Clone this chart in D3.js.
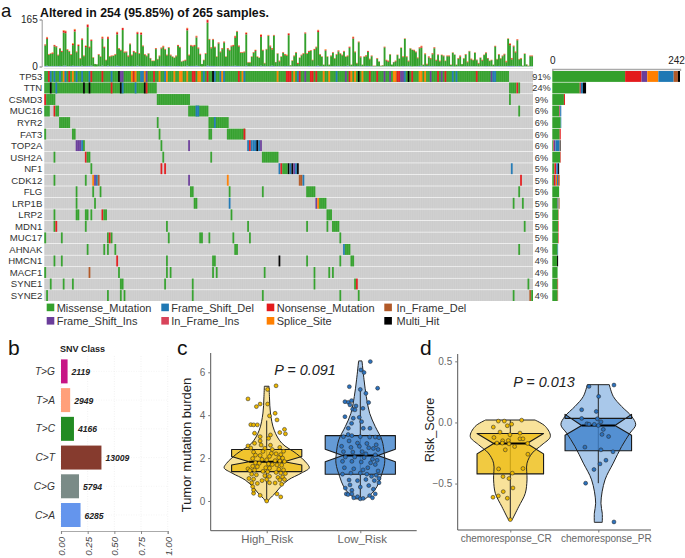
<!DOCTYPE html>
<html><head><meta charset="utf-8">
<script src="https://cdn.jsdelivr.net/npm/d3@7"></script>
<style>
html,body{margin:0;padding:0;background:#fff}
svg{display:block}
text{font-family:"Liberation Sans",Arial,sans-serif}
</style></head><body>
<svg id="c" width="685" height="558"></svg>
<script>
// ---------- data ----------
const genes=["TP53","TTN","CSMD3","MUC16","RYR2","FAT3","TOP2A","USH2A","NF1","CDK12","FLG","LRP1B","LRP2","MDN1","MUC17","AHNAK","HMCN1","MACF1","SYNE1","SYNE2"];
const genePct=["91%","24%","9%","6%","6%","6%","6%","6%","5%","5%","5%","5%","5%","5%","5%","4%","4%","4%","4%","4%"];
const nSamples=265;
const classes=["Missense_Mutation","Frame_Shift_Del","Nonsense_Mutation","In_Frame_Del","Frame_Shift_Ins","In_Frame_Ins","Splice_Site","Multi_Hit"];
const classColors=["#33A02C","#1F78B4","#E31A1C","#B15928","#6A3D9A","#D8435A","#FF7F00","#000000"];
const M=0,D=1,N=2,F=3,I=4,J=5,S=6,H=7;
// sample-wise burden
const barTotal=[78,104,44,47,50,76,72,42,65,55,128,126,61,55,44,82,132,53,78,30,99,39,74,148,70,95,33,9,8,44,36,105,70,24,105,37,39,39,44,122,65,59,136,53,53,39,81,42,55,51,122,47,120,74,44,39,47,30,21,21,65,27,39,67,73,62,42,68,42,36,32,39,76,69,18,21,24,136,42,76,74,76,108,67,45,9,24,47,
165,97,68,97,70,36,85,53,65,88,36,65,59,74,76,108,125,74,51,51,53,120,16,16,36,51,59,36,32,113,59,13,62,111,74,65,111,16,47,21,36,51,44,42,117,5,22,39,51,13,32,42,47,120,47,55,58,24,62,70,129,44,36,7,61,36,7,39,51,30,44,57,47,42,55,36,39,70,7,105,53,13,88,36,7,36,40,55,28,
39,3,3,30,18,3,5,70,24,21,44,7,16,21,42,28,67,36,99,36,21,65,59,59,53,32,68,73,7,47,10,36,30,47,68,24,42,21,42,39,21,39,39,7,50,42,7,30,39,9,30,44,18,55,28,24,50,24,13,32,24,42,50,30,21,24,7,73,27,44,30,39,45,20,99,82,30,74,53,96,27,30,3,46,8,3,39,39];
const barNonsense="3521343223"+"7722247242"+"4249341112"+"1531622127"+"2272232232"+"6262221211"+"3123322221"+"1232112722"+"33432112"+"9232213233"+"1323352322"+"2511123117"+"2112342112"+"1232611223"+"1223232132"+"6211311221"+"2322212315"+"2123113322"+"212112223"+"1112111212"+"2112223522"+"2333322212"+"1222112231"+"1221211221"+"2122111212"+"1223154233"+"12"+"1112"+"22";
const barSplice="1211211111"+"2211132121"+"1121111001"+"1211211112"+"1112111111"+"2121111011"+"1111211111"+"1111011211"+"11211011"+"2111111111"+"1111121111"+"1211111112"+"1112111011"+"1112111111"+"1111111111"+"2111211111"+"1111111112"+"1111111111"+"111011111"+"1001101111"+"1101111212"+"1111110111"+"1111101111"+"1111111011"+"1110111111"+"1112121211"+"11"+"0111"+"11";
const barFsDel="2311212121"+"3311232221"+"3122231001"+"1311312123"+"2122121211"+"3121211111"+"2112221221"+"1121011312"+"22321011"+"4222211212"+"1212232211"+"1311122113"+"1211232112"+"1121211111"+"1111121112"+"3121111112"+"1211213111"+"2112112212"+"121111111"+"1001101211"+"1201112312"+"1212111121"+"1111201111"+"1111111101"+"1121111212"+"1111222211"+"21"+"0111"+"11";
// oncoplot segments: [first sample, number of samples, class]
const TP53=[[0,252,M],[2,1,N],[3,1,D],[5,1,D],[8,1,D],[10,1,S],[11,1,D],[13,1,N],[15,1,S],[17,1,D],[20,1,D],[24,1,D],[25,1,N],[31,1,N],[36,1,D],[40,1,H],[41,2,I],[47,1,S],[48,1,N],[49,1,S],[52,2,D],[54,1,S],[55,1,I],[59,1,N],[62,1,S],[65,1,D],[66,1,S],[70,1,S],[73,2,S],[77,1,S],[80,2,N],[83,2,S],[86,1,D],[88,1,N],[91,1,H],[92,1,D],[95,1,D],[96,1,S],[97,1,D],[105,1,N],[107,1,S],[108,1,D],[126,1,S],[131,3,N],[135,1,S],[137,1,D],[138,1,N],[141,1,I],[144,2,N],[147,1,N],[151,1,S],[154,1,S],[158,1,D],[163,1,I],[165,1,N],[166,1,S],[168,1,S],[170,1,H],[172,1,S],[176,1,N],[180,1,N],[184,1,I],[187,1,I],[189,2,S],[191,2,N],[193,2,I],[195,1,D],[197,1,H],[199,1,N],[203,2,S],[206,1,S],[209,1,I],[213,1,N],[215,1,I],[217,1,N],[221,1,D],[223,1,D],[234,1,N],[242,1,I],[243,2,D]];
const TTN=[[0,61,M],[3,1,H],[6,1,D],[21,1,H],[24,1,H],[36,1,N],[41,1,H],[42,1,D],[49,1,D],[54,1,H],[55,1,N],[252,4,M],[256,1,N],[257,1,M]];
const CSMD3=[[0,1,N],[1,5,M],[61,18,M],[252,1,M]];
const MUC16=[[0,3,M],[5,1,N],[6,2,M],[78,11,M],[82,2,D],[257,1,M]];
const RYR2=[[8,6,M],[61,1,M],[89,11,M],[92,1,D]];
const FAT3=[[0,1,M],[15,2,M],[62,1,M],[89,2,M],[99,10,M],[108,1,N]];
const TOP2A=[[17,3,I],[20,1,D],[21,1,M],[63,1,M],[78,1,I],[110,1,D],[111,1,N],[112,1,D],[113,3,D],[115,1,H],[116,1,D],[117,1,I]];
const USH2A=[[5,1,M],[22,1,N],[23,2,M],[64,1,M],[90,1,M],[118,9,M]];
const NF1=[[25,1,M],[63,1,N],[65,1,N],[127,1,D],[128,1,N],[129,3,M],[132,1,H],[133,1,D],[134,1,H],[135,1,I],[136,1,D],[137,1,H],[253,1,D]];
const CDK12=[[5,1,M],[22,1,M],[26,1,S],[27,1,I],[28,1,D],[29,1,F],[78,1,I],[99,1,S],[138,2,F],[140,1,D],[258,1,N]];
const FLG=[[17,1,M],[26,1,M],[30,1,M],[79,2,M],[100,1,M],[118,1,M],[142,5,M],[257,1,M]];
const LRP1B=[[17,1,M],[27,1,M],[81,2,M],[100,1,D],[147,1,I],[148,1,S],[149,4,M],[254,1,M],[259,1,M]];
const LRP2=[[5,1,M],[17,2,M],[22,2,M],[25,1,M],[31,1,N],[32,2,M],[101,1,M],[153,3,M]];
const MDN1=[[5,1,M],[6,1,N],[22,1,M],[66,1,M],[110,1,M],[142,1,M],[153,1,M],[156,4,M],[260,1,M]];
const MUC17=[[0,1,M],[9,1,M],[34,1,M],[35,1,N],[36,1,M],[67,1,M],[84,2,M],[89,1,M],[102,1,M],[111,1,M],[160,1,M]];
const AHNAK=[[23,1,M],[32,1,M],[34,1,M],[38,1,M],[103,2,M],[162,1,D],[163,3,M],[257,1,M]];
const HMCN1=[[5,1,M],[9,1,M],[39,1,N],[66,1,M],[91,2,M],[127,1,H],[142,1,M],[160,1,M],[166,2,M]];
const MACF1=[[0,1,M],[24,1,F],[40,1,M],[66,1,M],[68,1,M],[91,1,M],[93,1,M],[119,1,M],[146,1,M],[154,1,M],[156,1,M]];
const SYNE1=[[3,1,M],[10,1,M],[15,1,M],[41,2,M],[65,1,M],[80,1,M],[146,1,M],[168,1,M],[169,1,N],[262,1,M]];
const SYNE2=[[1,1,M],[34,1,M],[41,1,M],[43,1,M],[80,1,M],[118,1,M],[160,1,M],[170,1,M],[254,1,M],[263,1,F],[264,1,M]];
const geneSegs=[TP53,TTN,CSMD3,MUC16,RYR2,FAT3,TOP2A,USH2A,NF1,CDK12,FLG,LRP1B,LRP2,MDN1,MUC17,AHNAK,HMCN1,MACF1,SYNE1,SYNE2];
// right-hand gene totals per class
const rightOrder=[M,N,I,S,D,F,J,H];
const rMissense=[138,52,22,13,16,14,2,15,4,3,13,10,11,11,11,10,9,10,10,10];
const rNonsense=[31,2,2,1,0,2,1,1,3,3,0,0,0,1,1,0,0,0,1,0];
const rFsIns=[11,0,0,1,0,0,3,0,1,1,0,1,0,0,0,0,0,0,0,0];
const rSplice=[21,0,0,0,0,0,0,0,0,2,0,1,0,0,0,0,0,0,0,0];
const rFsDel=[29,4,0,2,1,0,8,0,3,2,0,1,0,0,0,1,0,0,0,0];
const rIfDel=[8,0,0,0,0,0,1,0,0,3,0,1,1,0,0,0,0,0,0,1];
const rIfIns=[0,0,0,0,0,0,0,0,0,0,0,0,0,0,0,0,0,0,0,0];
const rMulti=[4,6,0,0,0,0,1,0,2,0,0,0,0,0,0,0,2,0,0,0];
const rightSeries=[rMissense,rNonsense,rFsIns,rSplice,rFsDel,rIfDel,rIfIns,rMulti];
// panel b
const snvClass=["T>G","T>A","T>C","C>T","C>G","C>A"];
const snvCount=[2119,2949,4166,13009,5794,6285];
const snvColor=["#C71585","#FFA07A","#228B22","#863B2E","#7A8B87","#6495ED"];
// panel c
const cCats=["High_Risk","Low_Risk"];
const cVioHigh=[[5.35,.025],[4.8,.03],[4.1,.04],[3.3,.08],[2.7,.16],[2.2,.32],[1.75,.43],[1.55,.455],[1.3,.37],[.98,.23],[.67,.15],[.36,.09],[.12,.035],[0,.014]];
const cVioLow=[[6.53,.018],[5.65,.04],[4.87,.064],[4.09,.1],[3.47,.16],[2.85,.23],[2.22,.256],[1.76,.26],[1.13,.22],[.67,.178],[.36,.125],[.1,.053]];
const cBoxHigh={q1:1.37,nl:1.68,med:1.83,nh:2.07,q3:2.4,wl:0,wh:3.75};
const cBoxLow={q1:1.25,nl:1.83,med:2.12,nh:2.41,q3:3.05,wl:.12,wh:5.2};
const cPtsHigh=[[-.2,4.76],[.1,5.37],[.01,5.2],[-.11,4.4],[-.07,4.52],[.01,4.52],[.09,4.09],[.03,3.97],[.11,3.78],[-.17,3.56],[-.14,3.55],[-.1,3.55],[.19,3.34],[.14,3.19],[.2,3.13],[-.07,3.0],[.04,3.08],[-.13,3.16],[-.07,2.8],[.02,2.92],
[-.2,2.57],[-.13,2.69],[-.06,2.61],[.04,2.6],[.14,2.5],[-.17,2.47],[-.02,2.46],[.06,2.4],[.18,2.32],[-.14,2.28],[-.04,2.31],[.05,2.22],[.1,2.2],[.15,2.16],[-.12,2.14],[-.07,2.12],[.03,2.08],[.13,2.02],[.17,2.0],[-.15,1.98],[-.05,1.94],[0,1.92],[.09,1.88],[.14,1.86],[.19,1.84],[-.12,1.78],[-.08,1.76],[.02,1.73],[.06,1.7],[.11,1.68],[.16,1.67],[-.2,1.5],[-.15,1.62],[-.1,1.6],[-.01,1.55],[.03,1.53],[.13,1.48],[.18,1.45],[-.18,1.42],[-.13,1.44],[-.04,1.38],[.01,1.36],[.1,1.33],[.15,1.3],[.2,1.28],[-.16,1.25],[-.11,1.22],[-.02,1.18],[.03,1.15],[.12,1.1],[.17,1.12],[-.19,1.05],[-.14,1.02],[-.05,.95],[0,1.0],[.14,.98],[.19,1.0],[-.16,.85],[-.1,.82],[.03,.85],[.09,.84],[.16,.78],
[0,0],[-.07,.26],[-.14,.36],[-.14,.51],[.11,.33],[.15,.19],[-.15,.67]];
const cPtsLow=[[.107,6.5],[.007,6.11],[.04,5.99],[-.117,5.33],[.185,5.26],[0,5.2],[.06,5.02],[-.164,4.63],[-.128,4.6],[-.093,4.68],[.089,4.59],[-.11,4.48],[-.046,4.43],[.028,4.32],[-.082,4.28],[-.164,3.93],[-.057,4.25],[-.011,3.9],[-.075,3.86],[.014,3.7],[-.093,3.62],[-.128,3.39],[.032,3.39],[.103,3.39],
[-.18,3.0],[-.13,3.1],[-.09,3.05],[0,3.0],[.1,2.98],[.16,2.98],[.2,2.95],[-.12,2.8],[-.03,2.7],[.07,2.68],[.17,2.62],[-.2,2.55],[-.1,2.5],[-.01,2.55],[.09,2.48],[.14,2.45],[.19,2.4],[-.18,2.3],[-.08,2.28],[.02,2.3],[.06,2.2],[.16,2.15],[-.16,2.05],[-.06,2.05],[.04,2.02],[.13,1.95],[.18,1.9],[-.19,1.85],[-.09,1.85],[.01,1.82],[.11,1.78],[.16,1.7],[-.17,1.55],[-.07,1.5],[.03,1.45],[.08,1.55],[.19,1.4],[-.19,1.25],[-.1,1.3],[0,1.3],[.07,1.25],[.12,1.15],[.17,1.2],[.2,1.05],[-.12,.98],[-.03,.95],[.06,1.0],[.15,.95],[.2,.85],[-.11,.75],[0,.65],[.09,.72],[.14,.55],[-.16,.6],[-.09,.5],[-.15,.33],[-.13,.3],[-.09,.33],[-.07,.15],[-.03,.2],[0,.1],[.03,.12],[.1,.25],[.13,.15],[.16,.33]];
// panel d
const dCats=["chemoresponse_CR","chemoresponse_PR"];
const dVioCR=[[.02,.28],[-.033,.4],[-.115,.455],[-.183,.36],[-.25,.25],[-.333,.19],[-.47,.19],[-.58,.17],[-.69,.095],[-.798,.02]];
const dVioPR=[[.309,.125],[.213,.17],[.131,.265],[.049,.38],[-.019,.425],[-.087,.36],[-.197,.265],[-.333,.17],[-.47,.076],[-.661,.03],[-.743,.045],[-.817,.045]];
const dBoxCR={q1:-.421,nl:-.257,med:-.172,nh:-.09,q3:-.09,wl:-.798,wh:.02};
const dBoxPR={q1:-.232,nl:-.104,med:-.025,nh:.066,q3:.033,wl:-.497,wh:.309};
const dPtsCR=[[-.136,.011],[-.068,.011],[.129,.019],[.015,-.014],[-.034,-.027],[-.193,-.038],[-.117,-.079],[-.004,-.101],[.11,-.087],[-.186,-.123],[.11,-.134],[.144,-.134],[-.087,-.15],[-.023,-.148],[-.152,-.169],[-.091,-.169],[-.015,-.175],[.049,-.197],[.197,-.172],[-.057,-.224],[.2,-.26],[-.133,-.38],[.144,-.377],[.023,-.415],[-.083,-.443],[-.015,-.459],[.03,-.536],[-.08,-.566],[-.136,-.601],[-.197,-.612],[-.034,-.62],[0,-.795]];
const dPtsPR=[[-.106,.295],[.178,.306],[.004,.213],[-.189,.104],[-.023,.09],[-.189,.033],[-.011,.03],[-.129,-.011],[-.106,-.014],[-.045,-.016],[0,-.025],[.03,.005],[.057,-.057],[.042,-.098],[.117,-.115],[-.152,-.202],[.03,-.224],[.167,-.24],[.087,-.309],[.019,-.339],[-.049,-.385],[-.144,-.497],[.178,-.814]];

// ---------- drawing ----------
const svg=d3.select("#c");
const txt=(x,y,s,o={})=>{const t=svg.append("text").attr("x",x).attr("y",y).text(s)
  .attr("font-size",o.size||10).attr("fill",o.fill||"#222").attr("text-anchor",o.anchor||"start");
  if(o.weight)t.attr("font-weight",o.weight); if(o.style)t.attr("font-style",o.style);
  if(o.rotate!=null)t.attr("transform",`rotate(${o.rotate} ${x} ${y})`); return t;};
[["a",1,17,18.5],["b",8,355,21],["c",177,355,21],["d",420,355,21]].forEach(d=>txt(d[1],d[2],d[0],{size:d[3],fill:"#111"}));

// panel a
const xS=d3.scaleBand().domain(d3.range(nSamples)).range([44.3,533]);
const bw=xS.bandwidth();
const yG=d3.scaleBand().domain(genes).range([71,301]).paddingInner(.055);
txt(40,16.5,"Altered in 254 (95.85%) of 265 samples.",{size:12.3,weight:"bold",fill:"#111"});
const yTop=d3.scaleLinear().domain([0,165]).range([66.5,19.5]);
const topAxis=svg.append("g").attr("transform","translate(41.7,0)").call(d3.axisLeft(yTop).tickValues([0,165]).tickSize(2));
topAxis.select(".domain").attr("stroke","#999");
topAxis.selectAll("line").attr("stroke","#999");
topAxis.selectAll("text").attr("font-size",10).attr("fill","#222").attr("font-family","Liberation Sans").attr("dx",1);
const topRows=barTotal.map((v,i)=>{const d=+(barFsDel[i]||0),n=+(barNonsense[i]||0),s=+(barSplice[i]||0);
  const scale=v<10?0.4:1; return {i,fs:d*scale,m:Math.max(v-(d+n+s)*scale,0),n:n*scale,s:s*scale};});
const stk=d3.stack().keys(["fs","m","n","s"])(topRows);
const topCol={fs:"#4A6FC0",m:"#33A02C",n:"#E31A1C",s:"#FF9A2A"};
svg.append("g").selectAll("g").data(stk).join("g").attr("fill",d=>topCol[d.key])
 .selectAll("rect").data(d=>d).join("rect")
 .attr("x",d=>xS(d.data.i)).attr("width",bw*1.02)
 .attr("y",d=>yTop(d[1])).attr("height",d=>Math.max(0,yTop(d[0])-yTop(d[1])));
svg.append("line").attr("x1",44).attr("x2",533).attr("y1",68.4).attr("y2",68.4).attr("stroke","#e4e4e4");

// matrix
const mat=svg.append("g");
mat.selectAll("rect.bg").data(genes).join("rect").attr("class","bg")
  .attr("x",xS.range()[0]).attr("width",xS.range()[1]-xS.range()[0])
  .attr("y",d=>yG(d)).attr("height",yG.bandwidth()).attr("fill","#CCCCCC");
genes.forEach((g,gi)=>{
  mat.append("g").selectAll("rect").data(geneSegs[gi]).join("rect")
   .attr("x",d=>xS(d[0])).attr("width",d=>bw*d[1])
   .attr("y",yG(g)).attr("height",yG.bandwidth()).attr("fill",d=>classColors[d[2]]);
});
mat.append("g").selectAll("line").data(d3.range(1,nSamples)).join("line")
  .attr("x1",d=>xS(d)).attr("x2",d=>xS(d)).attr("y1",71).attr("y2",301)
  .attr("stroke","#fff").attr("stroke-width",.3).attr("stroke-opacity",.35);
genes.forEach((g,i)=>{
  const y=yG(g)+yG.bandwidth()/2+3.4;
  txt(42.3,y,g,{size:9.6,anchor:"end",fill:"#333"});
  txt(541.5,y,genePct[i],{size:9.2,anchor:"middle",fill:"#333"});
});
// right bars
const xR=d3.scaleLinear().domain([0,242]).range([552.3,680]);
const ax=svg.append("g").attr("transform","translate(0,69)").call(d3.axisTop(xR).tickValues([0,242]).tickSize(-2));
ax.select(".domain").attr("stroke","#aaa").attr("stroke-width",1.4);
ax.selectAll("line").attr("stroke","#aaa");
ax.selectAll("text").attr("font-size",10).attr("fill","#222").attr("font-family","Liberation Sans").attr("y",-5);
ax.selectAll(".tick").filter(d=>d===242).select("text").attr("dx",-4);
genes.forEach((g,gi)=>{
  let c=0;
  rightOrder.forEach((t,k)=>{const v=rightSeries[k][gi]; if(!v)return;
    svg.append("rect").attr("x",xR(c)).attr("width",xR(c+v)-xR(c)).attr("y",yG(g)).attr("height",yG.bandwidth()).attr("fill",classColors[t]);
    c+=v;});
});
// legend
const lgX=[46.7,161.3,266.7,384.3],lgY=[303.6,317];
classes.forEach((c,i)=>{
  const col=i%4,row=i<4?0:1;
  svg.append("rect").attr("x",lgX[col]).attr("y",lgY[row]).attr("width",7.6).attr("height",7.6).attr("fill",classColors[i]);
  txt(lgX[col]+(col==3?12.2:10),lgY[row]+8,c,{size:11,fill:"#333"});
});

// panel b
const xB=d3.scaleLinear().domain([0,1]).range([61,167.7]);
const yB=d3.scaleBand().domain(snvClass).range([359.4,527]).paddingInner(.165);
const snvTotal=d3.sum(snvCount);
txt(82.5,352,"SNV Class",{size:9,weight:"bold",anchor:"middle",fill:"#222"});
[0,.25,.5,.75,1].forEach(t=>svg.append("line").attr("x1",xB(t)).attr("x2",xB(t)).attr("y1",356).attr("y2",531).attr("stroke","#e8e8e8").attr("stroke-width",.6).attr("stroke-dasharray","1 1.5"));
snvClass.forEach(c=>svg.append("line").attr("x1",61).attr("x2",167.7).attr("y1",yB(c)+yB.bandwidth()/2).attr("y2",yB(c)+yB.bandwidth()/2).attr("stroke","#eee").attr("stroke-width",.6).attr("stroke-dasharray","1 1.5"));
svg.append("g").selectAll("rect").data(snvClass).join("rect")
 .attr("x",xB(0)).attr("y",d=>yB(d)).attr("height",yB.bandwidth())
 .attr("width",(d,i)=>xB(snvCount[i]/snvTotal)-xB(0)).attr("fill",(d,i)=>snvColor[i]);
snvClass.forEach((c,i)=>{const y=yB(c)+yB.bandwidth()/2+3.5;
  txt(55,y,c,{size:10.2,anchor:"end",style:"italic",fill:"#333"});
  txt(xB(snvCount[i]/snvTotal)+4,y,snvCount[i],{size:8.6,weight:"bold",style:"italic",fill:"#222"});
});
const axB=svg.append("g").attr("transform","translate(0,531)").call(d3.axisBottom(xB).tickValues([0,.25,.5,.75,1]).tickFormat(d3.format(".2f")).tickSize(3));
axB.select(".domain").attr("stroke","#aaa").attr("stroke-width",1.2);
axB.selectAll("line").attr("stroke","#888");
axB.selectAll("text").attr("font-size",9.6).attr("fill","#444").attr("font-style","italic").attr("font-family","Liberation Sans")
  .attr("text-anchor","end").attr("transform","rotate(-90)").attr("x",-6).attr("y",3.5).attr("dy",0);

// violin/box helper
function panel(o){
  const y=d3.scaleLinear().domain(o.yDom).range(o.yRange);
  const x=d3.scalePoint().domain(o.cats).range(o.xPos);
  const unit=o.xPos[1]-o.xPos[0];
  const g=svg.append("g");
  o.series.forEach((s,i)=>{
    const cx=x(o.cats[i]);
    const area=d3.area().curve(d3.curveCatmullRom.alpha(.6)).y(d=>y(d[0])).x0(d=>cx-d[1]*unit).x1(d=>cx+d[1]*unit);
    g.append("path").attr("d",area(s.vio)).attr("fill",s.vioFill).attr("stroke","none");
    const b=s.box,L=cx-o.boxHalf*unit,R=cx+o.boxHalf*unit,Ln=cx-o.boxHalf*.5*unit,Rn=cx+o.boxHalf*.5*unit;
    g.append("line").attr("x1",cx).attr("x2",cx).attr("y1",y(b.wh)).attr("y2",y(b.wl)).attr("stroke","#222").attr("stroke-width",1);
    const poly=[[L,y(b.q3)],[R,y(b.q3)],[R,y(b.nh)],[Rn,y(b.med)],[R,y(b.nl)],[R,y(b.q1)],[L,y(b.q1)],[L,y(b.nl)],[Ln,y(b.med)],[L,y(b.nh)]];
    g.append("path").attr("d",d3.line()(poly)+"Z").attr("fill",s.boxFill).attr("fill-opacity",s.boxOp).attr("stroke","#1a1a1a").attr("stroke-width",1.1).attr("stroke-linejoin","round");
    g.append("line").attr("x1",Ln).attr("x2",Rn).attr("y1",y(b.med)).attr("y2",y(b.med)).attr("stroke","#000").attr("stroke-width",1.9);
    const lines=d3.line().curve(d3.curveCatmullRom.alpha(.6));
    const top=s.vio[0],bot=s.vio[s.vio.length-1];
    g.append("path").attr("d",lines(s.vio.map(d=>[cx-d[1]*unit,y(d[0])]))).attr("fill","none").attr("stroke","#222").attr("stroke-width",1);
    g.append("path").attr("d",lines(s.vio.map(d=>[cx+d[1]*unit,y(d[0])]))).attr("fill","none").attr("stroke","#222").attr("stroke-width",1);
    g.append("line").attr("x1",cx-top[1]*unit).attr("x2",cx+top[1]*unit).attr("y1",y(top[0])).attr("y2",y(top[0])).attr("stroke","#222");
    g.append("line").attr("x1",cx-bot[1]*unit).attr("x2",cx+bot[1]*unit).attr("y1",y(bot[0])).attr("y2",y(bot[0])).attr("stroke","#222");
    g.append("g").selectAll("circle").data(s.pts).join("circle")
      .attr("cx",d=>cx+d[0]*unit).attr("cy",d=>y(d[1])).attr("r",o.r)
      .attr("fill",s.ptFill).attr("stroke","#2b2b2b").attr("stroke-width",.55);
  });
  const ay=svg.append("g").attr("transform",`translate(${o.axisX},0)`).call(d3.axisLeft(y).tickValues(o.ticks).tickFormat(o.fmt).tickSize(2.5));
  ay.select(".domain").attr("stroke","#555").attr("stroke-width",1).attr("d",`M0,${o.yRange[0]}V${o.yRange[1]}`);
  ay.selectAll("line").attr("stroke","#777");
  ay.selectAll("text").attr("font-size",10).attr("fill","#666").attr("font-family","Liberation Sans");
  const ax=svg.append("g").attr("transform",`translate(0,${o.yRange[0]})`).call(d3.axisBottom(x).tickSize(2.5));
  ax.select(".domain").attr("stroke","#555").attr("stroke-width",1).attr("d",`M${o.axisX},0H${o.axisEnd}`);
  ax.selectAll("line").attr("stroke","#777");
  ax.selectAll("text").attr("font-size",o.catSize).attr("fill","#666").attr("font-family","Liberation Sans").attr("y",4.5)
    .attr("dx",(d,i)=>o.catDx[i]);
}
panel({cats:cCats,xPos:[266.7,360.3],yDom:[-1.385,6.9],yRange:[530.7,353],axisX:210.7,axisEnd:416.7,ticks:[0,2,4,6],fmt:d3.format("d"),boxHalf:.375,r:1.95,catSize:11.4,catDx:[0,1.5],
 series:[
  {vio:cVioHigh,box:cBoxHigh,pts:cPtsHigh,vioFill:"#F8E29A",boxFill:"#EDBD12",boxOp:.8,ptFill:"#EDB800"},
  {vio:cVioLow,box:cBoxLow,pts:cPtsLow,vioFill:"#A9C8EA",boxFill:"#3E82CC",boxOp:.8,ptFill:"#2C72BE"}]});
txt(191,445,"Tumor mutation burden",{size:13,anchor:"middle",rotate:-90,fill:"#222"});
txt(305,375,"P = 0.091",{size:14.4,style:"italic",anchor:"middle",fill:"#222"});
panel({cats:dCats,xPos:[510.3,598.3],yDom:[-.88,.56],yRange:[530,354],axisX:457.7,axisEnd:651,ticks:[-.5,0,.5],fmt:d=>d===0?"0.0":d3.format(".1f")(d),boxHalf:.378,r:1.95,catSize:10,catDx:[-4.6,7.5],
 series:[
  {vio:dVioCR,box:dBoxCR,pts:dPtsCR,vioFill:"#F8E29A",boxFill:"#EDBD12",boxOp:.8,ptFill:"#EDB800"},
  {vio:dVioPR,box:dBoxPR,pts:dPtsPR,vioFill:"#A9C8EA",boxFill:"#3E82CC",boxOp:.8,ptFill:"#2C72BE"}]});
txt(434,430,"Risk_Score",{size:12.6,anchor:"middle",rotate:-90,fill:"#222"});
txt(544,386.7,"P = 0.013",{size:14.4,style:"italic",anchor:"middle",fill:"#222"});
</script>
</body></html>
